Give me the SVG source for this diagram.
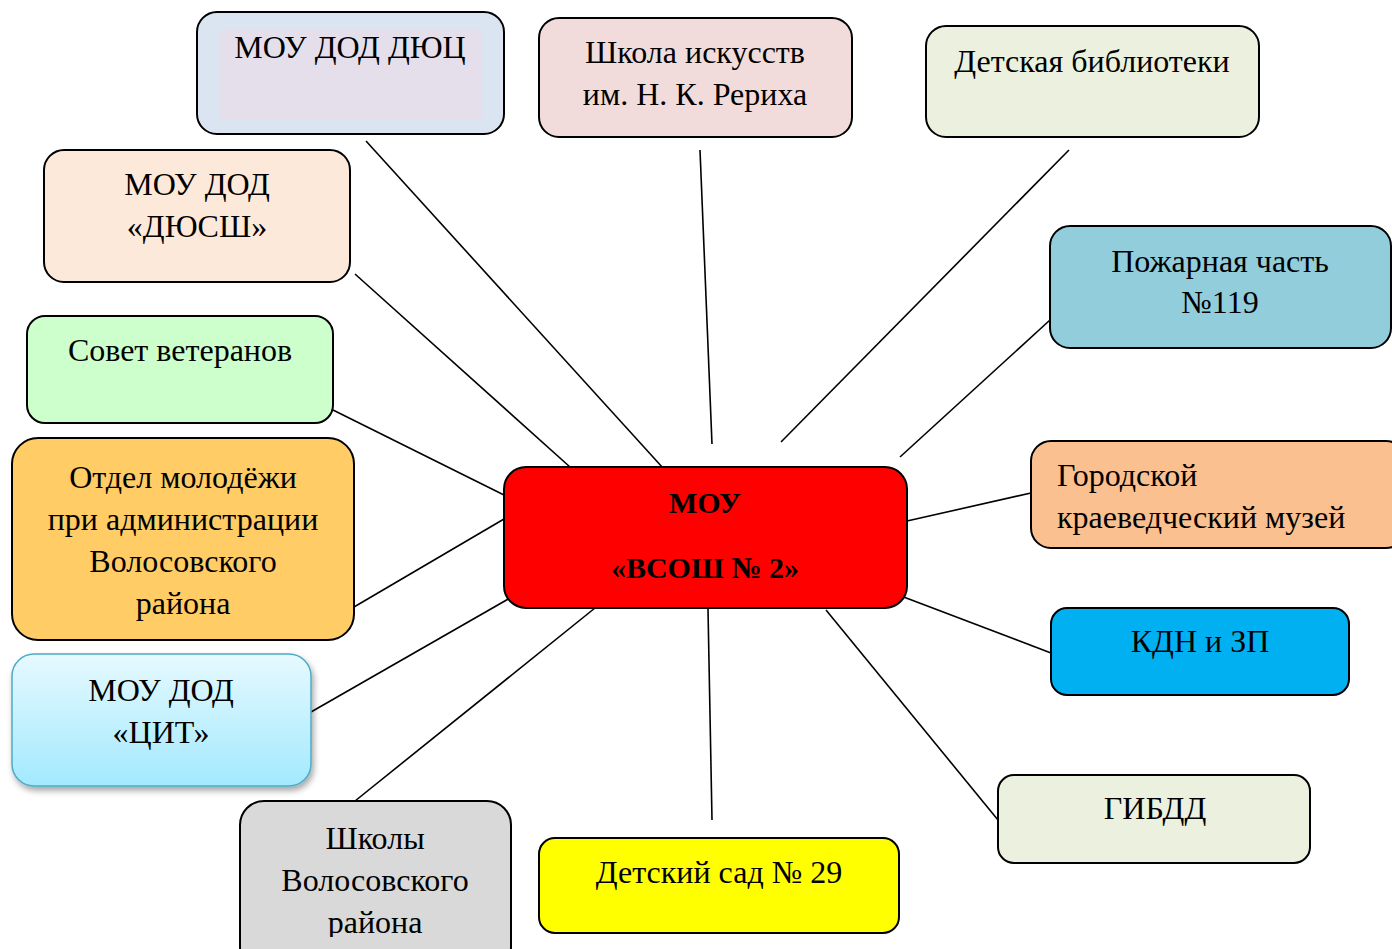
<svg xmlns="http://www.w3.org/2000/svg" width="1392" height="949" viewBox="0 0 1392 949">
<defs>
<linearGradient id="citGrad" x1="0" y1="0" x2="0" y2="1">
<stop offset="0" stop-color="#e6f9ff"/>
<stop offset="1" stop-color="#a3e9fe"/>
</linearGradient>
<filter id="shadow" x="-10%" y="-10%" width="130%" height="130%">
<feDropShadow dx="2" dy="4" stdDeviation="3" flood-color="#000" flood-opacity="0.35"/>
</filter>
<clipPath id="clipBottom"><rect x="0" y="0" width="1392" height="937"/></clipPath>
</defs>
<style>
.box{stroke:#000;stroke-width:2}
.t{font-family:"Liberation Serif","Times New Roman",serif;font-size:32px;fill:#000;text-anchor:middle}
.b{font-weight:bold;font-size:30px}
.l{text-anchor:start}
.c{stroke:#000;stroke-width:1.6;fill:none}
</style>
<rect width="1392" height="949" fill="#fff"/>
<g id="connectors">
<line class="c" x1="366" y1="141" x2="663" y2="468"/>
<line class="c" x1="700" y1="150" x2="712" y2="444"/>
<line class="c" x1="1069" y1="150" x2="781" y2="442"/>
<line class="c" x1="355" y1="274" x2="570" y2="467"/>
<line class="c" x1="1050" y1="320" x2="900" y2="457"/>
<line class="c" x1="333" y1="410" x2="504" y2="495"/>
<line class="c" x1="354" y1="607" x2="504" y2="519"/>
<line class="c" x1="1031" y1="493" x2="907" y2="521"/>
<line class="c" x1="1051" y1="653" x2="901" y2="596"/>
<line class="c" x1="311" y1="712" x2="510" y2="598"/>
<line class="c" x1="998" y1="820" x2="826" y2="610"/>
<line class="c" x1="712" y1="820" x2="708" y2="609"/>
<line class="c" x1="355" y1="801" x2="595" y2="608"/>
</g>
<g id="node-center">
<rect class="box" x="504" y="467" width="403" height="141" rx="22" fill="#ff0000"/>
<text class="t b" x="705" y="513">МОУ</text>
<text class="t b" x="705" y="578">«ВСОШ № 2»</text>
</g>
<g id="node-duc">
<rect class="box" x="197" y="12" width="307" height="122" rx="20" fill="#dbe5f1"/>
<rect x="219" y="29" width="263" height="90" fill="#e5dfec"/>
<text class="t" x="350" y="58">МОУ ДОД ДЮЦ</text>
</g>
<g id="node-shkola-iskusstv">
<rect class="box" x="539" y="18" width="313" height="119" rx="20" fill="#f2dcdb"/>
<text class="t" x="695" y="63">Школа искусств</text>
<text class="t" x="695" y="105">им. Н. К. Рериха</text>
</g>
<g id="node-biblioteka">
<rect class="box" x="926" y="26" width="333" height="111" rx="20" fill="#ebf1de"/>
<text class="t" x="1092" y="72">Детская библиотеки</text>
</g>
<g id="node-dyussh">
<rect class="box" x="44" y="150" width="306" height="132" rx="20" fill="#fde9d9"/>
<text class="t" x="197" y="195">МОУ ДОД</text>
<text class="t" x="197" y="237">«ДЮСШ»</text>
</g>
<g id="node-pozharnaya">
<rect class="box" x="1050" y="226" width="341" height="122" rx="20" fill="#92cddc"/>
<text class="t" x="1220" y="272">Пожарная часть</text>
<text class="t" x="1220" y="313">№119</text>
</g>
<g id="node-sovet">
<rect class="box" x="27" y="316" width="306" height="107" rx="18" fill="#ccffcc"/>
<text class="t" x="180" y="361">Совет ветеранов</text>
</g>
<g id="node-otdel">
<rect class="box" x="12" y="438" width="342" height="202" rx="26" fill="#ffcc66"/>
<text class="t" x="183" y="488">Отдел молодёжи</text>
<text class="t" x="183" y="530">при администрации</text>
<text class="t" x="183" y="572">Волосовского</text>
<text class="t" x="183" y="614">района</text>
</g>
<g id="node-muzey">
<rect class="box" x="1031" y="441" width="375" height="107" rx="20" fill="#fac090"/>
<text class="t l" x="1057" y="486">Городской</text>
<text class="t l" x="1057" y="528">краеведческий музей</text>
</g>
<g id="node-kdn">
<rect class="box" x="1051" y="608" width="298" height="87" rx="16" fill="#00b0f0"/>
<text class="t" x="1200" y="652">КДН и ЗП</text>
</g>
<g id="node-cit">
<rect x="12" y="654" width="299" height="132" rx="22" fill="url(#citGrad)" stroke="#4bacc6" stroke-width="1.5" filter="url(#shadow)"/>
<text class="t" x="161" y="701">МОУ ДОД</text>
<text class="t" x="161" y="743">«ЦИТ»</text>
</g>
<g id="node-gibdd">
<rect class="box" x="998" y="775" width="312" height="88" rx="16" fill="#ebf1de"/>
<text class="t" x="1155" y="819">ГИБДД</text>
</g>
<g id="node-detsad">
<rect class="box" x="539" y="838" width="360" height="95" rx="16" fill="#ffff00"/>
<text class="t" x="719" y="883">Детский сад № 29</text>
</g>
<g id="node-shkoly">
<rect class="box" x="240" y="801" width="271" height="170" rx="24" fill="#d9d9d9"/>
<g clip-path="url(#clipBottom)">
<text class="t" x="375" y="849">Школы</text>
<text class="t" x="375" y="891">Волосовского</text>
<text class="t" x="375" y="933">района</text>
</g>
</g>
</svg>
